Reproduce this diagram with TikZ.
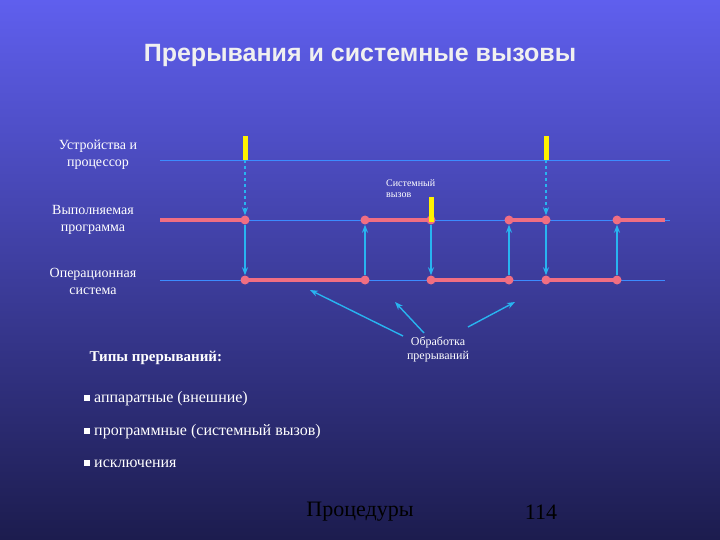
\documentclass[tikz,border=0pt]{standalone}
\usepackage{fontspec}
\setmainfont{Liberation Serif}
\newfontfamily\titlefont{Liberation Sans}
\usetikzlibrary{arrows.meta}
\begin{document}
\begin{tikzpicture}[x=1pt,y=-1pt,
  guide/.style={draw={rgb,255:red,60;green,140;blue,255}, line width=0.8pt},
  seg/.style={draw={rgb,255:red,240;green,110;blue,130}, line width=3.5pt},
  dot/.style={circle, fill={rgb,255:red,240;green,110;blue,130}, inner sep=0pt, minimum size=9pt},
  ybar/.style={fill=yellow},
  arr/.style={draw={rgb,255:red,40;green,180;blue,240}, line width=1.4pt, -{Stealth[length=8pt,width=6pt]}},
  darr/.style={arr, dashed},
  lbl/.style={text=white, font=\fontsize{14}{17}\selectfont, align=center},
  small/.style={text=white, font=\fontsize{10}{11}\selectfont, align=left}]
\shade[top color={rgb,255:red,95;green,95;blue,238}, bottom color={rgb,255:red,28;green,28;blue,78}] (0,0) rectangle (720,540);
\useasboundingbox (0,0) rectangle (720,540);
\node[text=white!88!gray, font=\titlefont\fontsize{25}{29}\selectfont\bfseries] (title) at (360,55) {Прерывания и системные вызовы};
\draw[guide] (160,160) -- (670,160);
\draw[guide] (160,220) -- (670,220);
\draw[guide] (160,280) -- (665,280);
\node[lbl] (l1) at (98,155) {Устройства и\\процессор};
\node[lbl] (l2) at (93,220) {Выполняемая\\программа};
\node[lbl] (l3) at (93,281) {Операционная\\система};
\foreach \n/\x/\y in {p1/245/220,p2/365/220,p3/431/220,p4/509/220,p5/546/220,p6/617/220,
  o1/245/280,o2/365/280,o3/431/280,o4/509/280,o5/546/280,o6/617/280}
  \node[dot] (\n) at (\x,\y) {};
\coordinate (ps) at (160,220); \coordinate (pe) at (665,220);
\draw[seg] (ps) -- (p1.center);
\draw[seg] (p2.center) -- (p3.center);
\draw[seg] (p4.center) -- (p5.center);
\draw[seg] (p6.center) -- (pe);
\draw[seg] (o1.center) -- (o2.center);
\draw[seg] (o3.center) -- (o4.center);
\draw[seg] (o5.center) -- (o6.center);
\fill[ybar] (243,136) rectangle (248,160);
\fill[ybar] (544,136) rectangle (549,160);
\fill[ybar] (429,197) rectangle (434,222);
\coordinate (y1) at (245,160); \coordinate (y2) at (546,160);
\draw[darr] (y1) -- (p1);
\draw[darr] (y2) -- (p5);
\draw[arr] (p1) -- (o1);
\draw[arr] (o2) -- (p2);
\draw[arr] (p3) -- (o3);
\draw[arr] (o4) -- (p4);
\draw[arr] (p5) -- (o5);
\draw[arr] (o6) -- (p6);
\node[small, anchor=north west, inner sep=0pt] (sc) at (386,179) {Системный\\вызов};
\node[lbl, font=\fontsize{12}{14}\selectfont] (obr) at (438,349) {Обработка\\прерываний};
\coordinate (a1) at (310,290); \coordinate (a2) at (395,302); \coordinate (a3) at (515,302);
\draw[arr] (403,336) -- (a1);
\draw[arr] (424,333) -- (a2);
\draw[arr] (468,327) -- (a3);
\node[text=white, font=\fontsize{15}{17}\selectfont\bfseries, anchor=west] (types) at (86,358) {Типы прерываний:};
\foreach \n/\y/\t in {b1/399/аппаратные (внешние),b2/432/программные (системный вызов),b3/464/исключения}{
  \fill[white] (84,\y-4) rectangle (90,\y+2);
  \node[text=white, font=\fontsize{16}{18}\selectfont, anchor=west, inner sep=0pt] (\n) at (94,\y) {\t};
}
\node[font=\fontsize{22}{26}\selectfont] (proc) at (360,512) {Процедуры};
\node[font=\fontsize{22}{26}\selectfont] (num) at (541,512) {114};
\end{tikzpicture}
\end{document}
